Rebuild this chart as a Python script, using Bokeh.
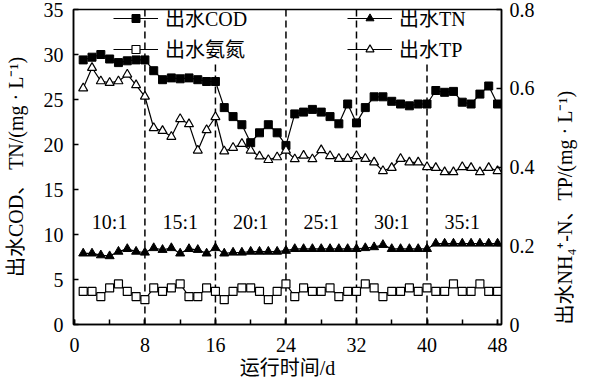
import math
from bokeh.plotting import figure
from bokeh.models import (Range1d, LinearAxis, FixedTicker, Span, Legend, LegendItem,
                          CustomJSTickFormatter)
from bokeh.embed import file_html
from bokeh.resources import INLINE
from bokeh.core.properties import value

# ---------------- data ----------------
days = list(range(1, 49))
cod = [29.4, 29.7, 30.0, 29.5, 29.1, 29.3, 29.4, 29.4,
       28.2, 27.2, 27.4, 27.3, 27.4, 27.2, 27.0, 27.0,
       24.1, 23.1, 22.2, 20.2, 21.3, 22.2, 21.3, 19.9,
       23.4, 23.6, 23.9, 23.6, 23.1, 22.3, 24.5, 22.4,
       24.1, 25.3, 25.3, 24.8, 24.5, 24.3, 24.5, 24.5,
       26.0, 25.8, 25.9, 24.7, 24.5, 25.6, 26.5, 24.5]
tn = [7.9, 7.9, 7.7, 7.6, 8.1, 8.4, 8.1, 8.0,
      8.5, 8.3, 8.5, 7.9, 8.4, 8.3, 7.9, 8.5,
      7.9, 8.0, 8.0, 8.1, 8.1, 8.1, 8.1, 8.2,
      8.4, 8.4, 8.4, 8.4, 8.4, 8.4, 8.4, 8.4,
      8.5, 8.6, 8.85, 8.4, 8.4, 8.4, 8.4, 8.4,
      9.0, 9.0, 9.0, 9.0, 9.0, 9.0, 9.0, 9.0]
nh4 = [0.084, 0.084, 0.071, 0.093, 0.103, 0.084, 0.071, 0.063,
       0.093, 0.084, 0.093, 0.103, 0.071, 0.071, 0.093, 0.084,
       0.063, 0.084, 0.093, 0.093, 0.084, 0.063, 0.084, 0.103,
       0.071, 0.093, 0.084, 0.084, 0.093, 0.071, 0.084, 0.084,
       0.103, 0.093, 0.071, 0.084, 0.084, 0.093, 0.084, 0.093,
       0.084, 0.084, 0.103, 0.084, 0.084, 0.103, 0.084, 0.084]
tp = [0.600, 0.652, 0.618, 0.614, 0.618, 0.635, 0.608, 0.579,
      0.499, 0.492, 0.477, 0.522, 0.509, 0.442, 0.494, 0.527,
      0.440, 0.449, 0.459, 0.442, 0.427, 0.418, 0.425, 0.442,
      0.420, 0.429, 0.420, 0.443, 0.428, 0.421, 0.421, 0.428,
      0.421, 0.412, 0.390, 0.398, 0.421, 0.412, 0.412, 0.400,
      0.398, 0.387, 0.387, 0.400, 0.398, 0.387, 0.398, 0.390]

x_ticks = [0, 8, 16, 24, 32, 40, 48]
x_minor = [0, 4, 8, 12, 16, 20, 24, 28, 32, 36, 40, 44, 48]
left_ticks = [0, 5, 10, 15, 20, 25, 30, 35]
right_ticks = [0, 0.2, 0.4, 0.6, 0.8]
stage_bounds = [8, 16, 24, 32, 40]
bounds_behind_legend_text = [16, 40]
stage_x = [4, 12, 20, 28, 36, 44]
stage_labels = ["10:1", "15:1", "20:1", "25:1", "30:1", "35:1"]
stage_label_y = 11.4

left_label = "出水COD、 TN/(mg · L⁻¹)"
right_label = "出水NH₄⁺-N、TP/(mg · L⁻¹)"
x_label = "运行时间/d"

FONT = "Liberation Serif, Noto Sans CJK SC"
FS = "20px"

# ---------------- figure ----------------
W, H = 589, 390
MB_L, MB_R, MB_T, MB_B = 73, 82, 9, 66
FH = H - MB_T - MB_B
Y_MAX = 35

p = figure(width=W, height=H, x_range=Range1d(-0.1, 48.45), y_range=Range1d(0, Y_MAX),
           output_backend="svg", toolbar_location=None,
           min_border_left=MB_L, min_border_right=MB_R,
           min_border_top=MB_T, min_border_bottom=MB_B)
p.extra_y_ranges = {"r": Range1d(0, 0.8)}
p.grid.visible = False
p.outline_line_color = "black"
p.outline_line_width = 1.5
p.background_fill_color = "white"
p.border_fill_color = "white"


def style_axis(ax):
    ax.axis_line_color = "black"
    ax.axis_line_width = 1.5
    ax.major_tick_in = 5
    ax.major_tick_out = 0
    ax.major_tick_line_width = 1.5
    ax.major_label_text_font = FONT
    ax.major_label_text_font_size = FS
    ax.major_label_text_color = "black"
    ax.axis_label_text_font = FONT
    ax.axis_label_text_font_size = FS
    ax.axis_label_text_font_style = "normal"
    ax.axis_label_text_color = "black"


xa = p.xaxis[0]
style_axis(xa)
xa.ticker = FixedTicker(ticks=x_ticks, minor_ticks=x_minor)
xa.minor_tick_in = 5
xa.minor_tick_out = 0
xa.minor_tick_line_width = 1.5
xa.major_label_standoff = 13
xa.axis_label = x_label
xa.axis_label_standoff = 2

ya = p.yaxis[0]
style_axis(ya)
ya.ticker = FixedTicker(ticks=left_ticks)
ya.minor_tick_in = 0
ya.minor_tick_out = 0
ya.major_label_standoff = 10
ya.axis_label = left_label
ya.axis_label_standoff = 14

ra = LinearAxis(y_range_name="r", ticker=FixedTicker(ticks=right_ticks),
                formatter=CustomJSTickFormatter(code="return tick == 0 ? '0' : tick.toFixed(1);"))
style_axis(ra)
ra.minor_tick_in = 0
ra.minor_tick_out = 0
ra.major_label_standoff = 8
ra.axis_label = right_label
ra.axis_label_standoff = 27
props = LinearAxis.properties()
if "axis_label_orientation" in props:
    ra.axis_label_orientation = math.pi / 2   # read bottom-to-top like the left title
if "axis_label_align" in props:
    ra.axis_label_align = "start"
p.add_layout(ra, "right")

# ---------------- legends geometry ----------------
ROW_H, ROW_GAP = 26, 2
LEG_H = 2 * ROW_H + ROW_GAP
legend_bottom_value = Y_MAX * (FH - LEG_H) / FH

# ---------------- stage separators ----------------
dash = "7 4"
for b in stage_bounds:
    if b not in bounds_behind_legend_text:
        p.add_layout(Span(location=b, dimension="height", line_color="black",
                          line_width=1.5, line_dash=dash, level="underlay"))
p.segment(x0=bounds_behind_legend_text, y0=[0] * len(bounds_behind_legend_text),
          x1=bounds_behind_legend_text,
          y1=[legend_bottom_value] * len(bounds_behind_legend_text),
          line_color="black", line_width=1.5, line_dash=dash, level="underlay")

# ---------------- series ----------------
lw = 1.2
cod_l = p.line(days, cod, line_color="black", line_width=lw)
cod_s = p.scatter(days, cod, marker="square", size=8, fill_color="black", line_color="black")
nh4_l = p.line(days, nh4, y_range_name="r", line_color="black", line_width=lw)
nh4_s = p.scatter(days, nh4, y_range_name="r", marker="square", size=8, fill_color="white",
                  line_color="black", line_width=1.2)
tn_l = p.line(days, tn, line_color="black", line_width=lw)
tn_s = p.scatter(days, tn, marker="triangle", size=9, fill_color="black", line_color="black")
tp_l = p.line(days, tp, y_range_name="r", line_color="black", line_width=lw)
tp_s = p.scatter(days, tp, y_range_name="r", marker="triangle", size=9, fill_color="white",
                 line_color="black", line_width=1.2)

p.text(x=stage_x, y=[stage_label_y] * len(stage_x), text=stage_labels,
       text_font=value(FONT), text_font_size=FS, text_align="center",
       text_baseline="middle", text_color="black")


# ---------------- legends ----------------
def make_legend(items, x):
    return Legend(items=items, location=(x, FH - LEG_H), orientation="vertical",
                  glyph_width=45, glyph_height=20, label_height=ROW_H, label_standoff=7,
                  spacing=ROW_GAP, padding=0, margin=0, border_line_color=None,
                  background_fill_alpha=0.0,
                  label_text_font=FONT, label_text_font_size=FS, label_text_color="black")


leg1 = make_legend([LegendItem(label="出水COD", renderers=[cod_l, cod_s]),
                    LegendItem(label="出水氨氮", renderers=[nh4_l, nh4_s])], 40)
leg2 = make_legend([LegendItem(label="出水TN", renderers=[tn_l, tn_s]),
                    LegendItem(label="出水TP", renderers=[tp_l, tp_s])], 274)
p.add_layout(leg1)
p.add_layout(leg2)

open("out.html", "w").write(file_html(p, INLINE))
